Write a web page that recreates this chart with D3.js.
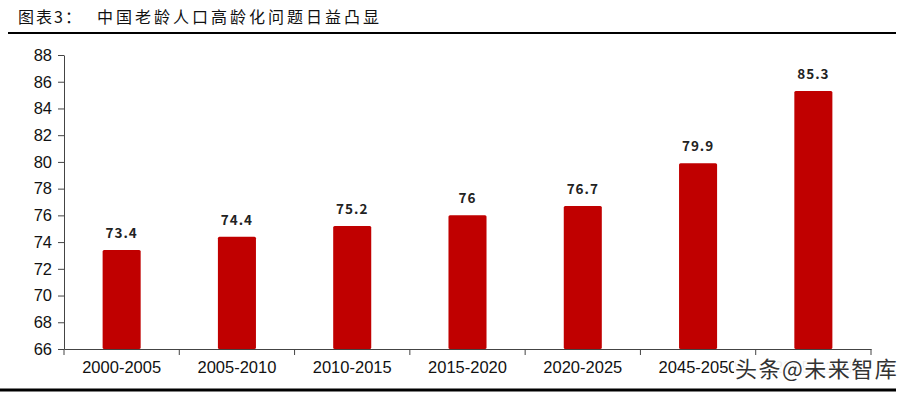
<!DOCTYPE html>
<html><head><meta charset="utf-8">
<script src="https://cdn.jsdelivr.net/npm/d3@7"></script>
<style>body{margin:0;background:#fff;}svg{display:block;}</style>
</head><body><div id="chart"></div>
<script>
const categories = ["2000-2005","2005-2010","2010-2015","2015-2020","2020-2025","2045-2050","2095-2100"];
const values = [73.4, 74.4, 75.2, 76, 76.7, 79.9, 85.3];
const valueLabels = ["73.4","74.4","75.2","76","76.7","79.9","85.3"];
const yTicks = [66,68,70,72,74,76,78,80,82,84,86,88];
const titleLabel = "图表3：";
const titleText = "中国老龄人口高龄化问题日益凸显";
const watermark = "头条@未来智库";

const W = 908, H = 394;
const svg = d3.select("#chart").append("svg").attr("width", W).attr("height", H);
const m = {left: 64, right: 37, top: 55, bottom: 45};
const x = d3.scaleBand().domain(categories).range([m.left, W - m.right]).paddingInner(0).paddingOuter(0);
const y = d3.scaleLinear().domain([66, 88]).range([H - m.bottom, m.top]);

// title
svg.append("text").attr("x", 18).attr("y", 23).attr("font-family","Noto Sans CJK SC").attr("font-size",16)
  .attr("letter-spacing",2).attr("fill","#111").text(titleLabel);
svg.append("text").attr("x", 97).attr("y", 23).attr("font-family","Noto Sans CJK SC").attr("font-size",16)
  .attr("letter-spacing",3).attr("fill","#111").text(titleText);
svg.append("line").attr("x1",8).attr("x2",896).attr("y1",33).attr("y2",33).attr("stroke","#000").attr("stroke-width",2);
svg.append("line").attr("x1",0).attr("x2",896).attr("y1",390).attr("y2",390).attr("stroke","#000").attr("stroke-width",3);

// y axis
const yAxis = svg.append("g").attr("transform",`translate(${m.left},0)`)
  .call(d3.axisLeft(y).tickValues(yTicks).tickSize(6).tickSizeOuter(0).tickPadding(6));
yAxis.select(".domain").attr("stroke","#444");
yAxis.selectAll(".tick line").attr("stroke","#444");
yAxis.selectAll("text").attr("font-family","Liberation Sans, Arial").attr("font-size",16.5).attr("fill","#111");

// x axis
const xAxis = svg.append("g").attr("transform",`translate(0,${y(66)})`)
  .call(d3.axisBottom(x).tickSize(0).tickPadding(12));
xAxis.select(".domain").attr("stroke","#444");
xAxis.selectAll("text").attr("font-family","Liberation Sans, Arial").attr("font-size",16.5).attr("fill","#111");
// boundary ticks
const bounds = categories.map(c => x(c)).concat([x.range()[1]]);
svg.append("g").selectAll("line").data(bounds).join("line")
  .attr("x1",d=>d).attr("x2",d=>d).attr("y1",y(66)).attr("y2",y(66)+6).attr("stroke","#444");

// bars
const bw = x.bandwidth()*0.33;
svg.append("g").selectAll("rect").data(values).join("rect")
  .attr("x",(d,i)=>x(categories[i]) + x.bandwidth()/2 - bw/2)
  .attr("y",d=>y(d)).attr("width",bw).attr("height",d=>y(66)-y(d))
  .attr("rx",1.5).attr("fill","#c00000");

// value labels
svg.append("g").selectAll("text").data(values).join("text")
  .attr("x",(d,i)=>x(categories[i]) + x.bandwidth()/2)
  .attr("y",d=>y(d)-12).attr("text-anchor","middle")
  .attr("font-family","Noto Sans CJK SC").attr("font-weight","bold").attr("font-size",13.5)
  .attr("fill","#222").attr("letter-spacing",1)
  .text((d,i)=>valueLabels[i]);

// watermark (covers the last category label, as in the source image)
svg.append("rect").attr("x",734).attr("y",356).attr("width",164).attr("height",27).attr("fill","#fff").attr("opacity",0.92);
svg.append("text").attr("x",735).attr("y",377).attr("font-family","Noto Sans CJK SC").attr("font-size",22)
  .attr("letter-spacing",1.5)
  .attr("fill","#333").attr("stroke","#fff").attr("stroke-width",3).attr("paint-order","stroke")
  .attr("stroke-linejoin","round").text(watermark);
</script></body></html>
